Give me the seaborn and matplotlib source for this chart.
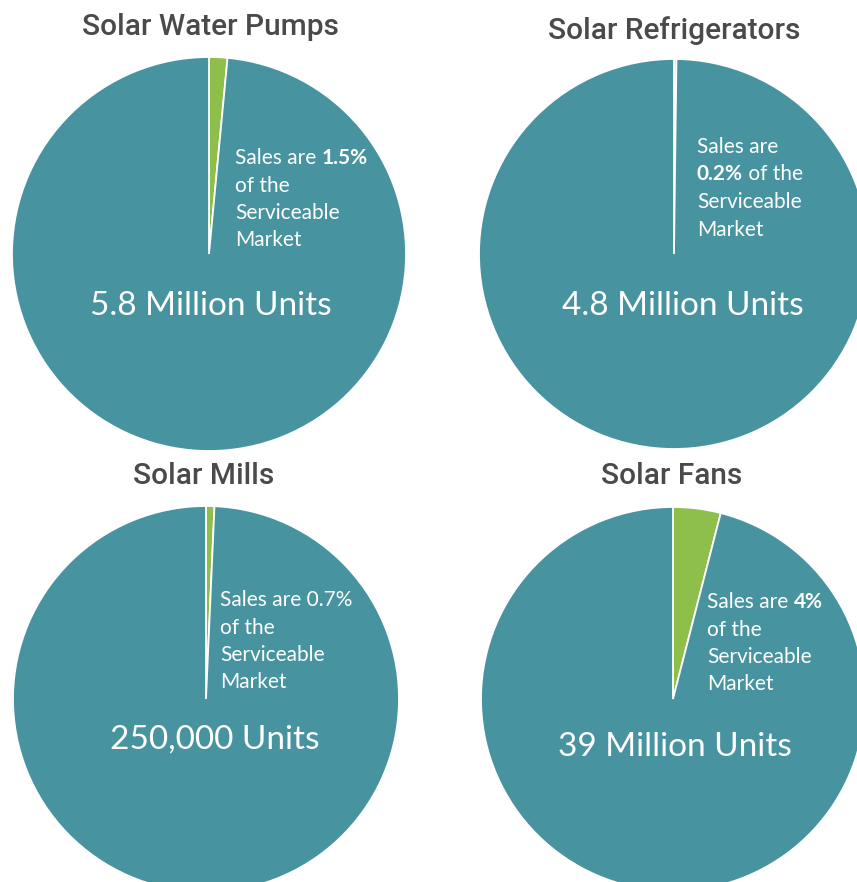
import matplotlib.pyplot as plt
import seaborn as sns

# product categories and their sales as % of the serviceable market
titles = ['Solar Water Pumps', 'Solar Refrigerators', 'Solar Mills', 'Solar Fans']
sales_share = [1.5, 0.2, 0.7, 4.0]
market_labels = ['5.8 Million Units', '4.8 Million Units', '250,000 Units', '39 Million Units']

# annotation lines, split into (text, bold) pieces
note_lines = [
    [[('Sales are ', False), ('1.5%', True)], [('of the', False)], [('Serviceable', False)], [('Market', False)]],
    [[('Sales are', False)], [('0.2%', True), (' of the', False)], [('Serviceable', False)], [('Market', False)]],
    [[('Sales are 0.7%', False)], [('of the', False)], [('Serviceable', False)], [('Market', False)]],
    [[('Sales are ', False), ('4%', True)], [('of the', False)], [('Serviceable', False)], [('Market', False)]],
]

sns.set_theme(style='white')
plt.rcParams['font.family'] = ['Lato', 'DejaVu Sans']

teal = '#4793a0'
green = '#8dbf4a'
W, H = 857, 882

# layout in pixel units (y measured from top)
centers = [(209, 254), (674, 254), (206, 699), (673, 699)]
radii = [197, 195, 193, 192]
title_pos = [(210, 27), (674, 31), (204, 476), (672, 476)]
big_pos = [(211, 306), (683, 306), (215, 740), (675, 747)]
note_pos = [(235, 158), (697, 147), (220, 600), (707, 602)]
line_gap = 27.5

fig = plt.figure(figsize=(W / 100, H / 100), dpi=100)
ax = fig.add_axes([0, 0, 1, 1])

for i in range(4):
    cx, cy = centers[i]
    ax.pie([sales_share[i], 100 - sales_share[i]], colors=[green, teal],
           startangle=90, counterclock=False, center=(cx, H - cy), radius=radii[i],
           wedgeprops=dict(edgecolor='white', linewidth=1.3))

ax.set_xlim(0, W)
ax.set_ylim(0, H)
ax.set_aspect('equal')
ax.axis('off')

for i in range(4):
    tx, ty = title_pos[i]
    ax.text(tx, H - ty, titles[i], ha='center', va='center', fontsize=21.5,
            fontweight='medium', color='#4a4a4a', family=['Roboto', 'DejaVu Sans'])
    bx, by = big_pos[i]
    ax.text(bx, H - by, market_labels[i], ha='center', va='center', fontsize=24,
            color='white')

fig.canvas.draw()
renderer = fig.canvas.get_renderer()
inv = ax.transData.inverted()
for i in range(4):
    nx, ny = note_pos[i]
    for j, line in enumerate(note_lines[i]):
        x = nx
        y = H - (ny + j * line_gap)
        for text, bold in line:
            t = ax.text(x, y, text, ha='left', va='center', fontsize=15,
                        color='white', fontweight='bold' if bold else 'normal')
            bb = t.get_window_extent(renderer=renderer)
            x = inv.transform((bb.x1, bb.y0))[0]

fig.savefig('out.png', dpi=100)
